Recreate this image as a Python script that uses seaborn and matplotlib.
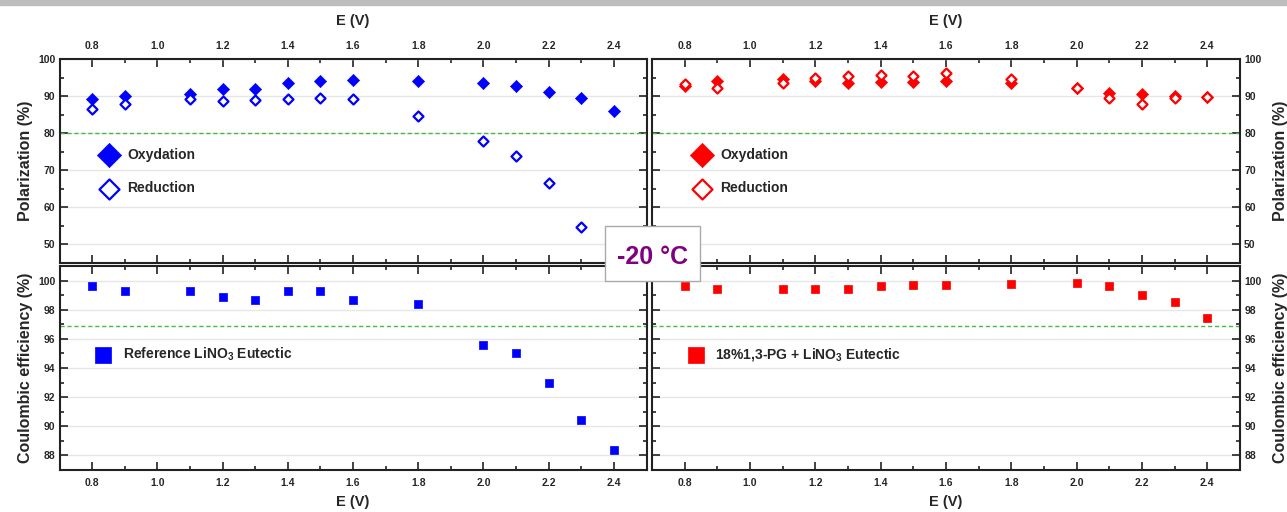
import numpy as np
import pandas as pd
import matplotlib
matplotlib.use('Agg')
import matplotlib.pyplot as plt
import seaborn as sns
from matplotlib.ticker import MultipleLocator
from matplotlib.patches import Rectangle

# data
E = [0.8, 0.9, 1.1, 1.2, 1.3, 1.4, 1.5, 1.6, 1.8, 2.0, 2.1, 2.2, 2.3, 2.4]

ref_ox = [89.1, 90.1, 90.6, 91.8, 92.0, 93.6, 94.0, 94.3, 94.1, 93.5, 92.7, 91.0, 89.4, 86.0]
ref_red = [86.6, 87.9, 89.1, 88.7, 88.9, 89.3, 89.4, 89.3, 84.5, 78.0, 73.9, 66.5, 54.7, np.nan]
pg_ox = [92.6, 94.2, 94.5, 94.2, 93.5, 93.9, 93.8, 94.2, 93.6, 92.3, 90.8, 90.6, 89.9, 89.8]
pg_red = [93.2, 92.1, 93.6, 94.8, 95.4, 95.7, 95.5, 96.1, 94.6, 92.3, 89.4, 87.9, 89.5, 89.7]

ref_ce = [99.6, 99.3, 99.3, 98.9, 98.7, 99.3, 99.3, 98.7, 98.4, 95.6, 95.0, 93.0, 90.4, 88.4]
pg_ce = [99.6, 99.4, 99.4, 99.4, 99.4, 99.6, 99.7, 99.7, 99.75, 99.8, 99.6, 99.0, 98.5, 97.4]

pol_limit = 80
ce_limit = 96.85

ref_label = 'Reference LiNO$_3$ Eutectic'
pg_label = '18%1,3-PG + LiNO$_3$ Eutectic'

sns.set_style('ticks')
plt.rcParams['font.family'] = ['Liberation Sans', 'DejaVu Sans']
plt.rcParams['mathtext.fontset'] = 'custom'
plt.rcParams['mathtext.rm'] = 'Liberation Sans:bold'
plt.rcParams['mathtext.it'] = 'Liberation Sans:bold'

W, H = 1287, 512
fig = plt.figure(figsize=(W / 100, H / 100), dpi=100)
fig.patches.append(Rectangle((0, 1 - 5 / H), 1, 5 / H, transform=fig.transFigure,
                             color='#bdbdbd', zorder=0))


def box(x0, x1, y0, y1):
    return [x0 / W, 1 - y1 / H, (x1 - x0) / W, (y1 - y0) / H]


ax_tl = fig.add_axes(box(59.5, 646.5, 59, 263))
ax_tr = fig.add_axes(box(652, 1240, 59, 263))
ax_bl = fig.add_axes(box(59.5, 646.5, 266, 470))
ax_br = fig.add_axes(box(652, 1240, 266, 470))


def style(ax, top, right):
    ax.set_xlim(0.7, 2.5)
    ax.xaxis.set_major_locator(MultipleLocator(0.2))
    ax.xaxis.set_minor_locator(MultipleLocator(0.1))
    if top:
        ax.set_ylim(45, 100)
        ax.set_yticks([50, 60, 70, 80, 90, 100])
        ax.yaxis.set_minor_locator(MultipleLocator(5))
    else:
        ax.set_ylim(87, 101)
        ax.set_yticks([88, 90, 92, 94, 96, 98, 100])
        ax.yaxis.set_minor_locator(MultipleLocator(1))
    ax.grid(axis='y', color='#e6e6e6', lw=1)
    ax.set_axisbelow(True)
    for s in ax.spines.values():
        s.set_linewidth(1.5)
        s.set_color('#222222')
    ax.tick_params(which='both', direction='in', top=True, bottom=True,
                   left=True, right=True, width=1.2, color='#222222')
    ax.tick_params(which='major', length=6)
    ax.tick_params(which='minor', length=3)
    ax.tick_params(axis='x', labeltop=top, labelbottom=not top, labelsize=7.5, pad=6)
    ax.tick_params(axis='y', labelleft=not right, labelright=right, labelsize=7.5, pad=3)
    for lab in ax.get_xticklabels() + ax.get_yticklabels():
        lab.set_fontweight('bold')
    ax.set_xlabel('E (V)', fontsize=10.5, fontweight='bold', labelpad=11 if top else 5)
    if top:
        ax.xaxis.set_label_position('top')
        ylab = 'Polarization (%)'
    else:
        ylab = 'Coulombic efficiency (%)'
    ax.set_ylabel(ylab, fontsize=11.5, fontweight='bold', labelpad=4)
    if right:
        ax.yaxis.set_label_position('right')
        ax.yaxis.labelpad = 8


def polar(ax, ox, red, color):
    sns.scatterplot(x=E, y=ox, ax=ax, marker='D', s=38, color=color,
                    edgecolor=color, linewidth=0.5, label='Oxydation', zorder=3)
    sns.scatterplot(x=E, y=red, ax=ax, marker='D', s=26, color='white',
                    edgecolor=color, linewidth=1.6, label='Reduction', zorder=4)
    ax.axhline(pol_limit, color='#44bb44', ls='--', lw=1, dashes=(3, 2))
    ax.legend(loc='upper left', bbox_to_anchor=(0.04, 0.625), frameon=False,
              markerscale=2.0, labelspacing=1.4, handletextpad=0.3,
              prop={'weight': 'bold', 'size': 10})


def coul(ax, ce, color, label):
    sns.scatterplot(x=E, y=ce, ax=ax, marker='s', s=26, color=color,
                    edgecolor=color, linewidth=0.5, label=label, zorder=3)
    ax.axhline(ce_limit, color='#44bb44', ls='--', lw=1, dashes=(3, 2))
    ax.legend(loc='upper left', bbox_to_anchor=(0.03, 0.67), frameon=False,
              markerscale=2.2, handletextpad=0.4,
              prop={'weight': 'bold', 'size': 10})


polar(ax_tl, ref_ox, ref_red, '#0000ff')
polar(ax_tr, pg_ox, pg_red, '#ff0000')
coul(ax_bl, ref_ce, '#0000ff', ref_label)
coul(ax_br, pg_ce, '#ff0000', pg_label)

style(ax_tl, True, False)
style(ax_tr, True, True)
style(ax_bl, False, False)
style(ax_br, False, True)

# temperature tag straddling the four panels
fig.patches.append(Rectangle((605 / W, 1 - 281 / H), 95 / W, 55 / H,
                             transform=fig.transFigure, fc='white', ec='#aaaaaa',
                             lw=1, zorder=10))
fig.text(653 / W, 1 - 257 / H, '-20 °C', ha='center', va='center', fontsize=18,
         fontweight='bold', color='#800080', zorder=11)

fig.savefig('out.png', dpi=100)
